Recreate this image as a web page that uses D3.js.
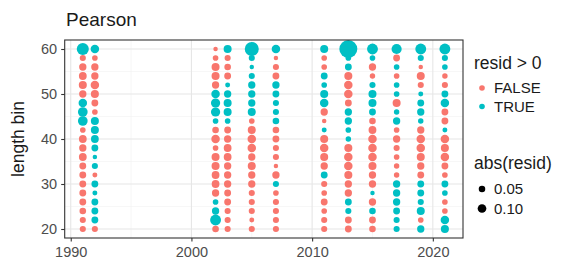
<!DOCTYPE html>
<html>
<head>
<meta charset="utf-8">
<script src="https://cdn.jsdelivr.net/npm/d3@7"></script>
<style>
  body { margin: 0; background: #fff; }
  svg text { font-family: "Liberation Sans", Arial, sans-serif; }
</style>
</head>
<body>
<svg id="chart" width="584" height="265"></svg>
<script>
// length bins, top row first
const lengthBins = [60,58,56,54,52,50,48,46,44,42,40,38,36,34,32,30,28,26,24,22,20];
const years = [1991,1992,2002,2003,2005,2007,2011,2013,2015,2017,2019,2021];
const xTicks = [1990,2000,2010,2020];
const yTicks = [20,30,40,50,60];
const sizeBreaks = [0.05,0.10];

// pearson residuals, one array per year, same order as lengthBins
const r1991 = [0.215,-0.042,-0.066,-0.077,-0.083,-0.066,0.095,0.13,0.13,-0.034,-0.077,-0.066,-0.077,-0.056,-0.056,-0.056,-0.056,-0.056,-0.051,-0.042,-0.042];
const r1992 = [0.095,-0.034,-0.066,-0.066,-0.095,-0.083,-0.056,-0.034,0.083,0.083,0.077,0.056,0.018,0.042,-0.024,0.056,0.024,0.056,0.056,0.056,-0.042];
const r2002 = [-0.018,-0.034,-0.083,-0.083,-0.066,0.095,0.115,0.115,0.034,-0.051,-0.095,-0.034,-0.083,-0.083,-0.077,-0.077,-0.066,0.034,0.066,0.17,-0.051];
const r2003 = [0.083,-0.042,-0.051,-0.056,0.024,0.066,0.083,0.083,0.034,-0.056,-0.066,-0.077,-0.077,-0.066,-0.066,-0.066,-0.056,-0.056,-0.042,-0.042,-0.042];
const r2005 = [0.30,0.042,0.018,0.042,0.066,0.066,0.066,0.083,-0.034,-0.083,-0.095,-0.095,-0.066,-0.083,-0.066,-0.066,-0.042,-0.042,-0.042,-0.024,-0.042];
const r2007 = [0.095,-0.018,-0.042,-0.056,0.066,0.056,0.042,0.042,0.051,-0.051,-0.056,-0.042,-0.042,-0.018,-0.066,0.042,-0.034,-0.042,-0.042,-0.042,-0.042];
const r2011 = [0.083,-0.034,-0.034,0.056,0.034,0.083,0.095,-0.066,-0.018,0.024,-0.083,-0.095,-0.083,-0.066,0.056,-0.042,-0.034,-0.056,-0.034,-0.042,-0.042];
const r2013 = [0.52,0.034,0.056,-0.083,-0.095,-0.095,-0.056,0.066,0.066,0.034,0.031,-0.083,-0.095,-0.095,-0.083,-0.066,-0.066,0.056,0.042,-0.056,-0.056];
const r2015 = [0.17,0.034,-0.066,-0.031,0.042,0.083,0.083,0.056,-0.051,-0.077,-0.095,-0.095,-0.095,-0.083,-0.066,-0.066,0.018,-0.066,0.051,-0.056,-0.051];
const r2017 = [0.145,-0.056,0.034,-0.034,0.034,0.034,-0.083,0.031,0.066,-0.034,-0.066,-0.042,-0.034,-0.031,-0.031,0.066,0.066,0.066,0.056,0.042,0.042];
const r2019 = [0.17,0.042,-0.018,-0.083,-0.042,0.024,0.056,0.066,0.031,-0.066,-0.095,-0.095,-0.083,-0.066,-0.056,0.056,0.056,0.042,0.083,-0.034,0.066];
const r2021 = [0.17,0.042,0.034,-0.031,-0.042,0.056,0.095,-0.056,-0.056,0.024,-0.095,-0.083,-0.095,-0.056,-0.034,0.056,0.034,-0.034,-0.034,0.095,0.083];
const resids = [r1991,r1992,r2002,r2003,r2005,r2007,r2011,r2013,r2015,r2017,r2019,r2021];

const posColor = "#00BFC4", negColor = "#F8766D";

let points = [];
years.forEach((yr, i) => {
  resids[i].forEach((v, j) => {
    points.push({year: yr, bin: lengthBins[j], resid: v});
  });
});

const svg = d3.select('#chart');
const margin = {top: 40, right: 121, bottom: 27, left: 64.7};
const W = 584, H = 265;

const x = d3.scaleLinear().domain([1989.5, 2022.5]).range([margin.left, W - margin.right]);
const y = d3.scaleLinear().domain([18, 62]).range([H - margin.bottom, margin.top]);
const size = d3.scaleSqrt().domain([0, 0.52]).range([0.7, 9.0]);

// grid
const grid = svg.append('g');
[1995,2005,2015].forEach(d => {
  grid.append('line').attr('x1', x(d)).attr('x2', x(d)).attr('y1', y.range()[0]).attr('y2', y.range()[1])
    .attr('stroke', '#f2f2f2').attr('stroke-width', 0.6);
});
[25,35,45,55].forEach(d => {
  grid.append('line').attr('x1', x.range()[0]).attr('x2', x.range()[1]).attr('y1', y(d)).attr('y2', y(d))
    .attr('stroke', '#f2f2f2').attr('stroke-width', 0.6);
});
xTicks.forEach(d => {
  grid.append('line').attr('x1', x(d)).attr('x2', x(d)).attr('y1', y.range()[0]).attr('y2', y.range()[1])
    .attr('stroke', '#e6e6e6').attr('stroke-width', 1.1);
});
yTicks.forEach(d => {
  grid.append('line').attr('x1', x.range()[0]).attr('x2', x.range()[1]).attr('y1', y(d)).attr('y2', y(d))
    .attr('stroke', '#e6e6e6').attr('stroke-width', 1.1);
});

// points
svg.append('g').selectAll('circle')
  .data(points)
  .enter()
  .append('circle')
    .attr('cx', d => x(d.year))
    .attr('cy', d => y(d.bin))
    .attr('r', d => size(Math.abs(d.resid)))
    .attr('fill', d => d.resid > 0 ? posColor : negColor);

// panel border
svg.append('rect')
  .attr('x', x.range()[0]).attr('y', y.range()[1])
  .attr('width', x.range()[1] - x.range()[0])
  .attr('height', y.range()[0] - y.range()[1])
  .attr('fill', 'none').attr('stroke', '#333').attr('stroke-width', 1.1);

// axes
const xAxis = svg.append('g')
  .attr('transform', 'translate(0,' + y.range()[0] + ')')
  .call(d3.axisBottom(x).tickValues(xTicks).tickFormat(d3.format('d')).tickSize(3.5).tickPadding(5.5));
const yAxis = svg.append('g')
  .attr('transform', 'translate(' + x.range()[0] + ',0)')
  .call(d3.axisLeft(y).tickValues(yTicks).tickSize(3.5).tickPadding(4));
[xAxis, yAxis].forEach(a => {
  a.select('.domain').remove();
  a.selectAll('.tick line').attr('stroke', '#333').attr('stroke-width', 1.1);
  a.selectAll('.tick text').attr('fill', '#4d4d4d').attr('font-size', 14.5)
    .attr('font-family', '"Liberation Sans", Arial, sans-serif');
});

svg.append('text')
  .attr('transform', 'translate(24,' + y(40) + ') rotate(-90)')
  .attr('text-anchor', 'middle')
  .attr('font-size', 17.5)
  .attr('fill', '#1a1a1a')
  .text('length bin');

svg.append('text')
  .attr('x', 66).attr('y', 26)
  .attr('font-size', 19)
  .attr('fill', '#1a1a1a')
  .text('Pearson');

// legends
const leg = svg.append('g').attr('transform', 'translate(474,0)');
leg.append('text').attr('x', 0).attr('y', 69).attr('font-size', 17.5).attr('fill', '#1a1a1a').text('resid > 0');
const colorKeys = [{label: 'FALSE', c: negColor}, {label: 'TRUE', c: posColor}];
colorKeys.forEach((k, i) => {
  const cy = 88 + i * 18.5;
  leg.append('circle').attr('cx', 8).attr('cy', cy).attr('r', 2.8).attr('fill', k.c);
  leg.append('text').attr('x', 20).attr('y', cy + 5.3).attr('font-size', 15).attr('fill', '#1a1a1a').text(k.label);
});

leg.append('text').attr('x', 0).attr('y', 169).attr('font-size', 17.5).attr('fill', '#1a1a1a').text('abs(resid)');
sizeBreaks.forEach((b, i) => {
  const cy = 189 + i * 19.5;
  leg.append('circle').attr('cx', 8).attr('cy', cy).attr('r', size(b)).attr('fill', '#000');
  leg.append('text').attr('x', 20).attr('y', cy + 5.3).attr('font-size', 15).attr('fill', '#1a1a1a').text(d3.format('.2f')(b));
});
</script>
</body>
</html>
